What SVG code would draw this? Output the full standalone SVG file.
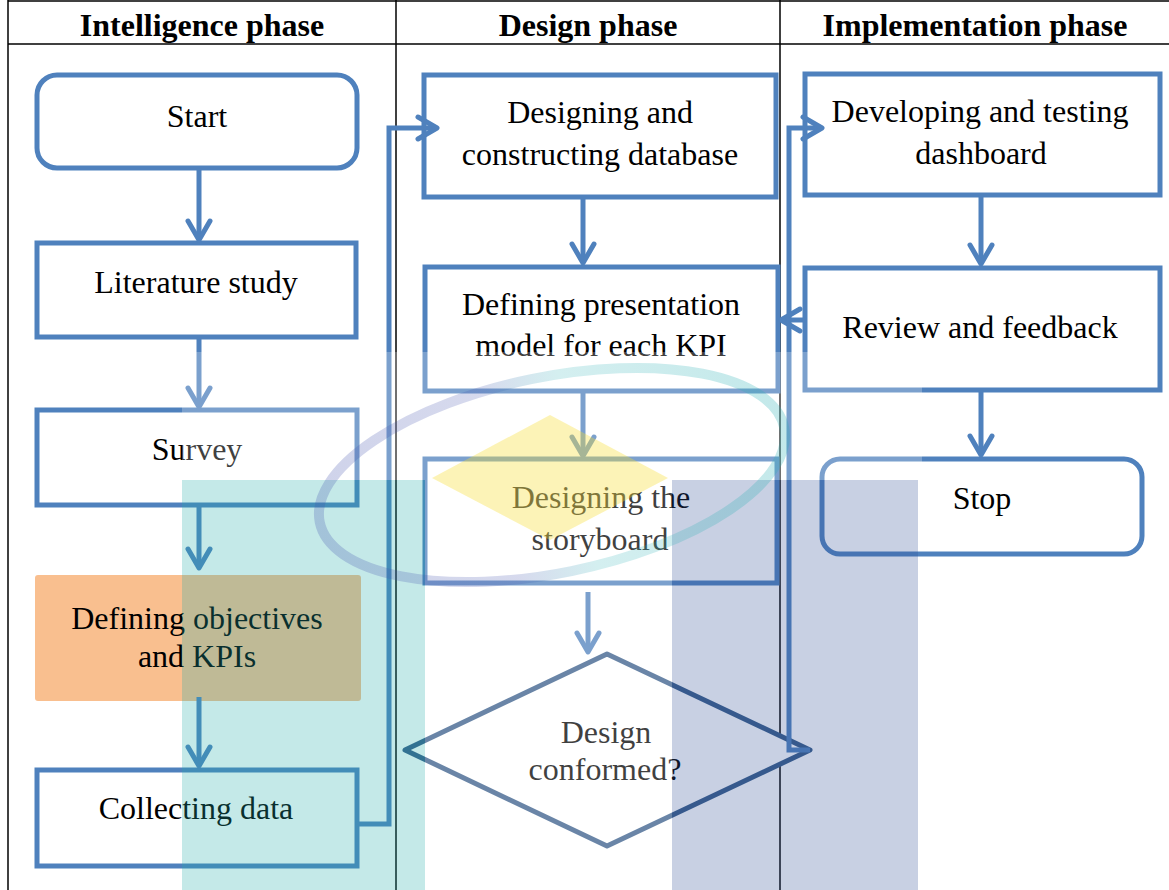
<svg xmlns="http://www.w3.org/2000/svg" width="1169" height="890" viewBox="0 0 1169 890">
<defs>
<style>
.grid{stroke:#000;stroke-width:1.5;fill:none}
.hd{font-family:"Liberation Serif","Times New Roman",serif;font-weight:bold;font-size:32px;text-anchor:middle;fill:#000}
.tx{font-family:"Liberation Serif","Times New Roman",serif;font-size:32px;text-anchor:middle;fill:#000}
.box{fill:#fff;stroke:#4f81bd;stroke-width:5}
.dec{fill:#fff;stroke:#385d8a;stroke-width:5;stroke-linejoin:round}
.flow{fill:none;stroke:#4f81bd;stroke-width:5;marker-end:url(#arr)}
</style>
<marker id="arr" markerUnits="userSpaceOnUse" viewBox="-24 -14 28 28" markerWidth="28" markerHeight="28" refX="0" refY="0" orient="auto">
<path d="M-19,-11 L0,0 L-19,11" fill="none" stroke="#4f81bd" stroke-width="5" stroke-linecap="round" stroke-linejoin="round"/>
</marker>
<linearGradient id="ring" gradientUnits="userSpaceOnUse" x1="320" y1="0" x2="790" y2="0">
<stop offset="0" stop-color="#4655af" stop-opacity="0.26"/>
<stop offset="0.38" stop-color="#4655af" stop-opacity="0.22"/>
<stop offset="0.55" stop-color="#28afb4" stop-opacity="0.2"/>
<stop offset="1" stop-color="#28afb4" stop-opacity="0.28"/>
</linearGradient>
</defs>

<!-- table grid -->
<g id="grid" class="grid">
<line x1="8" y1="1" x2="1169" y2="1"/>
<line x1="8" y1="44" x2="1169" y2="44"/>
<line x1="8" y1="0" x2="8" y2="890"/>
<line x1="396" y1="0" x2="396" y2="890"/>
<line x1="780" y1="0" x2="780" y2="890"/>
</g>
<g id="headers">
<text class="hd" x="202" y="36">Intelligence phase</text>
<text class="hd" x="588" y="36">Design phase</text>
<text class="hd" x="975" y="36">Implementation phase</text>
</g>

<!-- intelligence phase -->
<g id="start"><rect class="box" x="37" y="75" width="320" height="93" rx="20"/><text class="tx" x="197" y="127">Start</text></g>
<g id="literature"><rect class="box" x="37" y="243" width="319" height="94"/><text class="tx" x="196" y="293">Literature study</text></g>
<g id="survey"><rect class="box" x="37" y="410" width="320" height="95"/><text class="tx" x="197" y="460">Survey</text></g>
<g id="objectives"><rect x="35" y="575" width="326" height="126" rx="3" fill="#f9bf8f"/><text class="tx" x="197" y="629">Defining objectives</text><text class="tx" x="197" y="667">and KPIs</text></g>
<g id="collecting"><rect class="box" x="37" y="770" width="320" height="96"/><text class="tx" x="196" y="819">Collecting data</text></g>

<!-- design phase -->
<g id="database"><rect class="box" x="424" y="75" width="352" height="122"/><text class="tx" x="600" y="123">Designing and</text><text class="tx" x="600" y="165">constructing database</text></g>
<g id="presentation"><rect class="box" x="425" y="267" width="353" height="124"/><text class="tx" x="601" y="315">Defining presentation</text><text class="tx" x="601" y="356">model for each KPI</text></g>
<g id="storyboard"><rect class="box" x="425" y="459" width="352" height="124"/><text class="tx" x="601" y="508">Designing the</text><text class="tx" x="600" y="550">storyboard</text></g>
<g id="conformed"><polygon class="dec" points="607,654 810,750 607,846 405,750"/><text class="tx" x="606" y="743">Design</text><text class="tx" x="605" y="780">conformed?</text></g>

<!-- implementation phase -->
<g id="dashboard"><rect class="box" x="805" y="74" width="355" height="121"/><text class="tx" x="980" y="122">Developing and testing</text><text class="tx" x="981" y="164">dashboard</text></g>
<g id="review"><rect class="box" x="805" y="268" width="355" height="122"/><text class="tx" x="980" y="338">Review and feedback</text></g>
<g id="stop"><rect class="box" x="822" y="459" width="320" height="95" rx="18"/><text class="tx" x="982" y="509">Stop</text></g>

<!-- connectors -->
<g id="connectors">
<path class="flow" d="M199,168 V240"/>
<path class="flow" d="M199,337 V407"/>
<path class="flow" d="M199,505 V568"/>
<path class="flow" d="M199,697 V766"/>
<path class="flow" d="M583,197 V263"/>
<path class="flow" d="M583,391 V456"/>
<path class="flow" d="M588,592 V652"/>
<path class="flow" d="M981,195 V264"/>
<path class="flow" d="M981,390 V455"/>
<path class="flow" d="M357,824 H389 V128 H437"/>
<path class="flow" d="M810,750 H789 V128 H822"/>
<path class="flow" d="M805,320 H781"/>
</g>

<!-- translucent seal drawn across the page -->
<g id="seal">
<rect x="182" y="352" width="740" height="128" fill="#fff" opacity="0.25"/>
<rect x="425" y="480" width="247" height="410" fill="#fff" opacity="0.25"/>
<rect x="182" y="480" width="243" height="410" fill="#25aeaa" opacity="0.27"/>
<rect x="672" y="480" width="246" height="410" fill="#325096" opacity="0.27"/>
<polygon points="550,415 668,478 550,540 432,478" fill="#f6dd31" opacity="0.35"/>
<ellipse cx="552" cy="475" rx="237" ry="98" transform="rotate(-11.5 552 475)" fill="none" stroke="url(#ring)" stroke-width="10"/>
</g>
</svg>
